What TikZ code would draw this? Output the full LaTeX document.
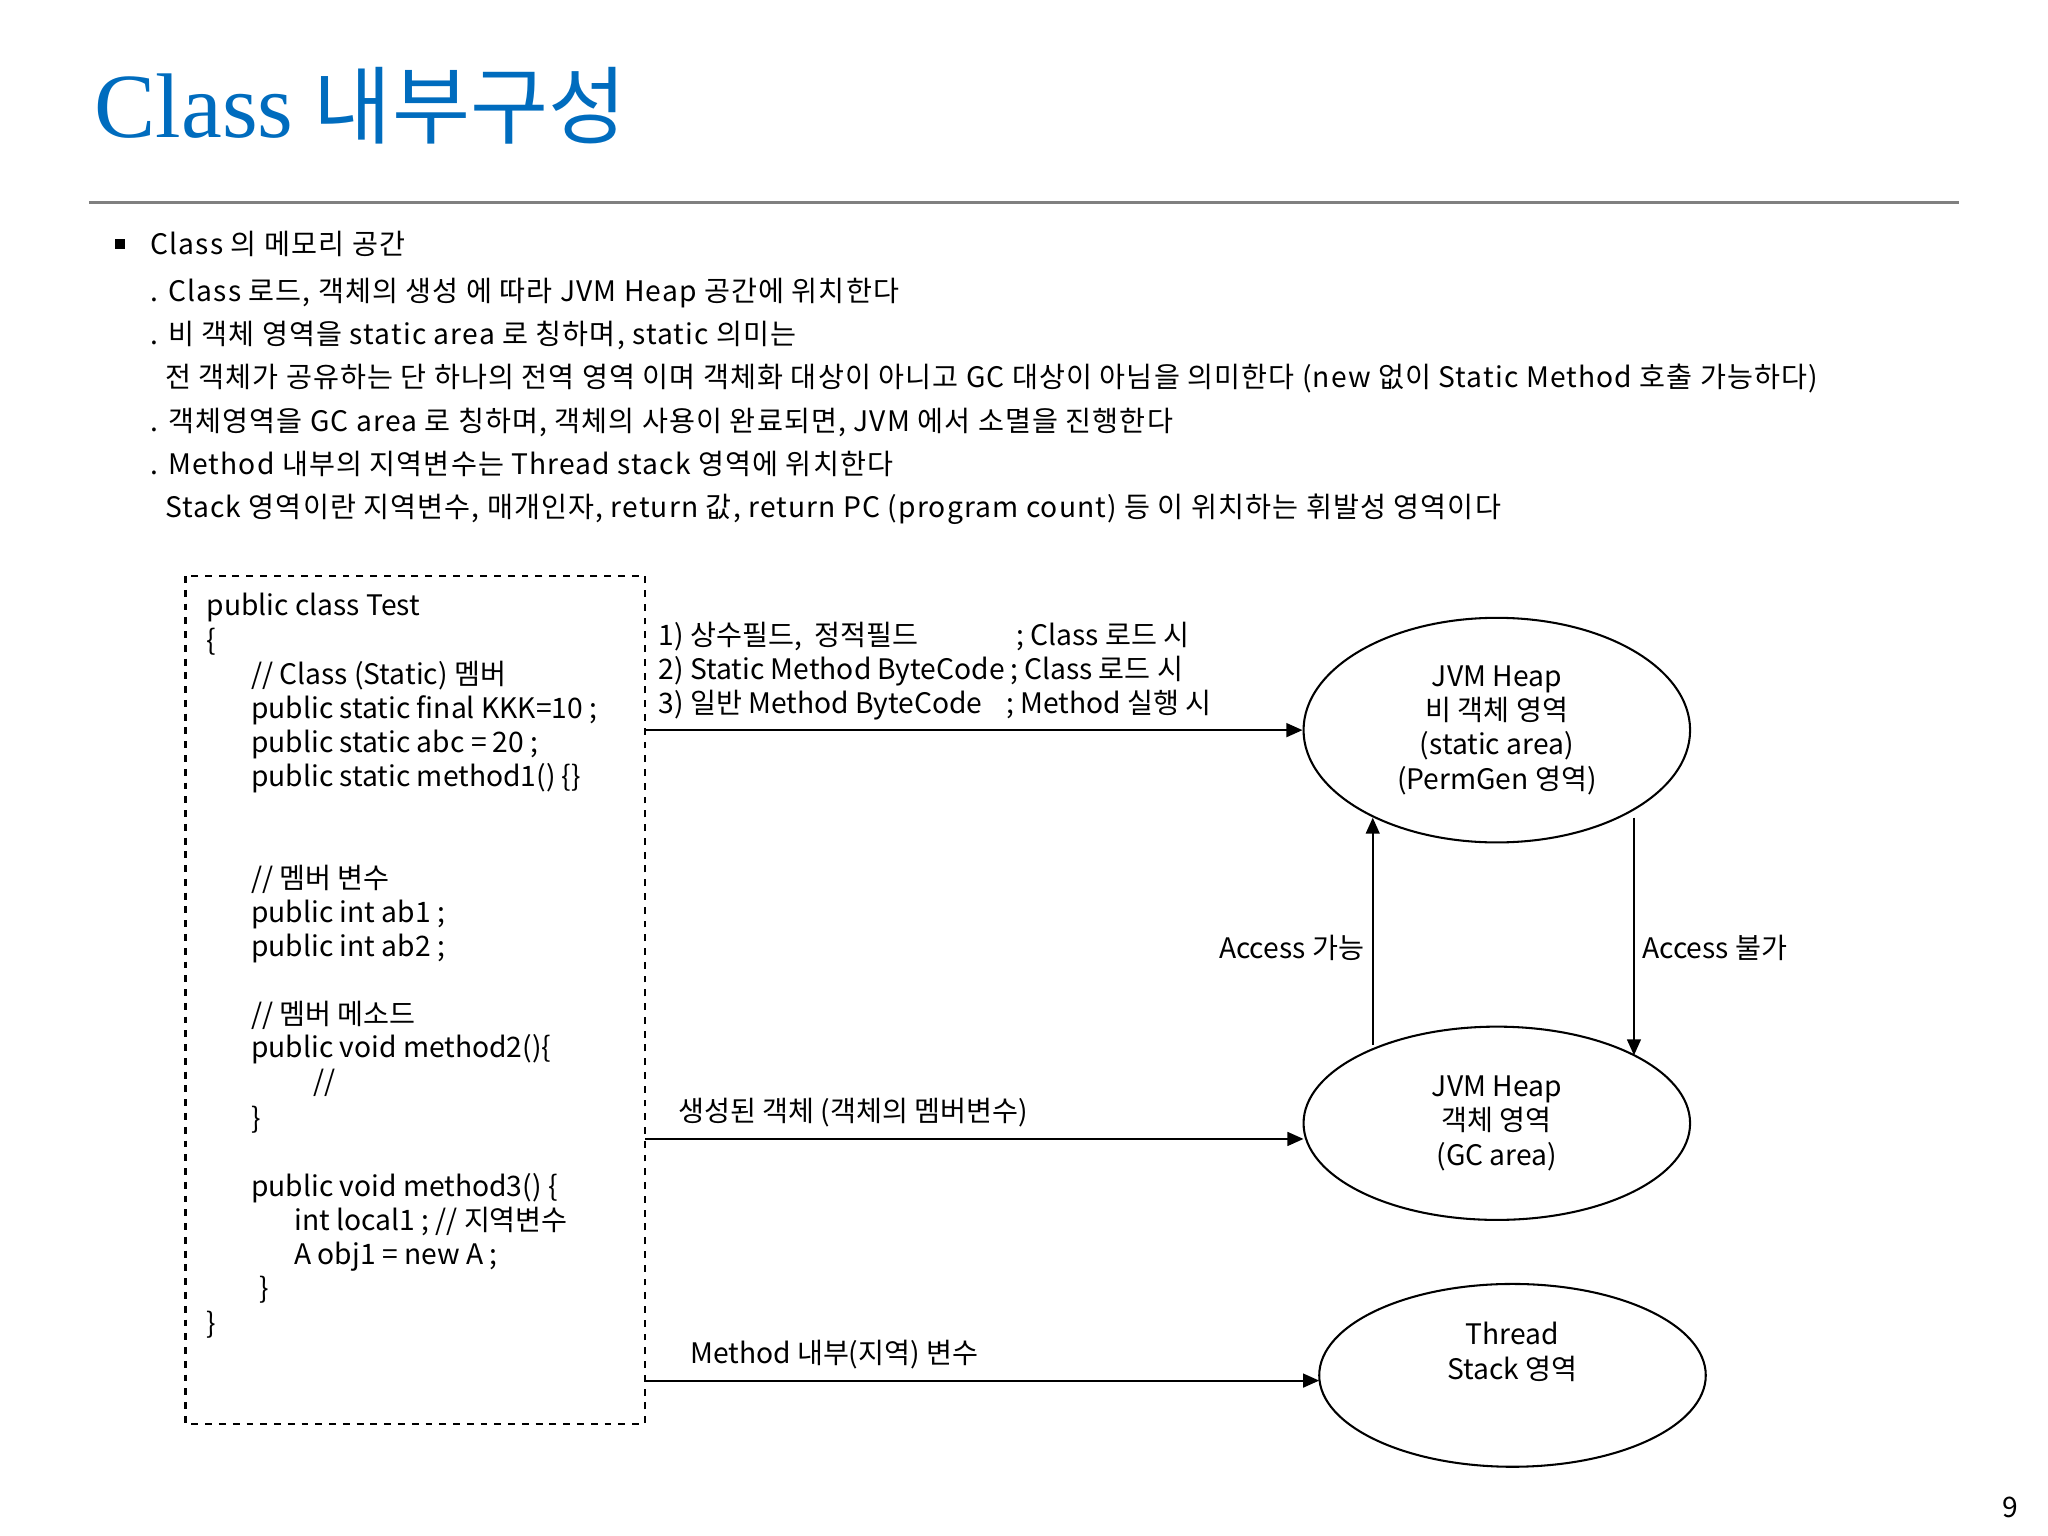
\documentclass[tikz,border=0pt]{standalone}
\usepackage{fontspec}
\setmainfont{Noto Sans CJK KR}
\newfontfamily\bodyfont{Noto Sans CJK KR}[LetterSpace=4]
\newfontfamily\titleserif{Liberation Serif}
\usetikzlibrary{arrows.meta,shapes.geometric}
\definecolor{titleblue}{RGB}{0,108,190}
\tikzset{
  txt/.style={anchor=base west,inner sep=0pt,font=\fontsize{12.3}{14}\selectfont},
  btxt/.style={anchor=base west,inner sep=0pt,font=\bodyfont\fontsize{12.3}{14}\selectfont},
  ell/.style={draw,ellipse,line width=0.9pt,align=center,font=\fontsize{12.3}{15}\selectfont},
  arr/.style={-{Triangle[length=7pt,width=6pt]},line width=0.9pt}
}
\begin{document}
\begin{tikzpicture}[x=0.02cm,y=-0.02cm]
\useasboundingbox (0,0) rectangle (1568,1176);
\node[anchor=base west,inner sep=0pt,text=titleblue,font=\fontsize{40}{44}\selectfont] (title) at (72,105) {{\titleserif Class} {\fontsize{37}{40}\selectfont 내부구성}};
\draw[gray,line width=1pt] (68,155) -- (1500,155);
\fill (88,183) rectangle (96,191);
\node[btxt] (b0) at (115,195) {Class 의 메모리 공간};
\node[btxt] (b1) at (115,231) {. Class 로드, 객체의 생성 에 따라 JVM Heap 공간에 위치한다};
\node[btxt] (b2) at (115,264) {. 비 객체 영역을 static area 로 칭하며, static 의미는};
\node[btxt] (b3) at (126,297) {전 객체가 공유하는 단 하나의 전역 영역 이며 객체화 대상이 아니고 GC 대상이 아님을 의미한다 (new 없이 Static Method 호출 가능하다)};
\node[btxt] (b4) at (115,330) {. 객체영역을 GC area 로 칭하며, 객체의 사용이 완료되면, JVM 에서 소멸을 진행한다};
\node[btxt] (b5) at (115,363) {. Method 내부의 지역변수는 Thread stack 영역에 위치한다};
\node[btxt] (b6) at (126,396) {Stack 영역이란 지역변수, 매개인자, return 값, return PC (program count) 등 이 위치하는 휘발성 영역이다};
% code box
\draw[dashed,line width=0.9pt] (142,441) rectangle (494,1090);
\coordinate (boxe) at (494,441);
\node[txt] (c1) at (158,471) {public class Test};
\node[txt] (c2) at (158,498) {\{};
\node[txt] (c3) at (192,524) {// Class (Static) 멤버};
\node[txt] (c4) at (192,550) {public static final KKK=10 ;};
\node[txt] (c5) at (192,576) {public static abc = 20 ;};
\node[txt] (c6) at (192,602) {public static method1() \{\}};
\node[txt] (c7) at (192,680) {// 멤버 변수};
\node[txt] (c8) at (192,706) {public int ab1 ;};
\node[txt] (c9) at (192,732) {public int ab2 ;};
\node[txt] (c10) at (192,784) {// 멤버 메소드};
\node[txt] (c11) at (192,810) {public void method2()\{};
\node[txt] (c12) at (240,836) {//};
\node[txt] (c13) at (192,864) {\}};
\node[txt] (c14) at (192,916) {public void method3() \{};
\node[txt] (c15) at (225,942) {int local1 ; // 지역변수};
\node[txt] (c16) at (225,968) {A obj1 = new A ;};
\node[txt] (c17) at (198,994) {\}};
\node[txt] (c18) at (158,1021) {\}};
% ellipses
\node[ell,minimum width=5.92cm,minimum height=3.44cm] (e1) at (1146,559) {JVM Heap\\비 객체 영역\\(static area)\\(PermGen 영역)};
\node[ell,minimum width=5.92cm,minimum height=2.96cm] (e2) at (1146,860) {JVM Heap\\객체 영역\\(GC area)};
\node[ell,minimum width=5.92cm,minimum height=2.8cm,text depth=0.75cm] (e3) at (1158,1053) {Thread\\Stack 영역};
% arrows
\draw[arr] (boxe |- e1.west) -- (e1.west);
\coordinate (a2s) at (494,872);
\coordinate (a2e) at (998,872);
\draw[arr] (a2s) -- (a2e);
\coordinate (a3s) at (494,1057);
\coordinate (a3e) at (1010,1057);
\draw[arr] (a3s) -- (a3e);
\coordinate (u1) at (1051,800); \coordinate (u2) at (1051,626);
\draw[arr] (u1) -- (u2);
\coordinate (d1) at (1251,626); \coordinate (d2) at (1251,808);
\draw[arr] (d1) -- (d2);
% labels
\node[txt] (l1) at (504,494) {1) 상수필드,\ \ 정적필드};
\node[txt] (l2) at (504,520) {2) Static Method ByteCode};
\node[txt] (l3) at (504,546) {3) 일반\ Method ByteCode};
\node[txt] (l4) at (778,494) {; Class 로드 시};
\node[txt] (l5) at (773,520) {; Class 로드 시};
\node[txt] (l6) at (770,546) {; Method 실행 시};
\node[txt] (l7) at (933,734) {Access 가능};
\node[txt] (l8) at (1257,734) {Access 불가};
\node[txt] (l9) at (519,859) {생성된 객체 (객체의 멤버변수)};
\node[txt] (l10) at (528,1044) {Method 내부(지역) 변수};
\node[txt] (pg) at (1533,1162) {9};
\end{tikzpicture}
\end{document}
